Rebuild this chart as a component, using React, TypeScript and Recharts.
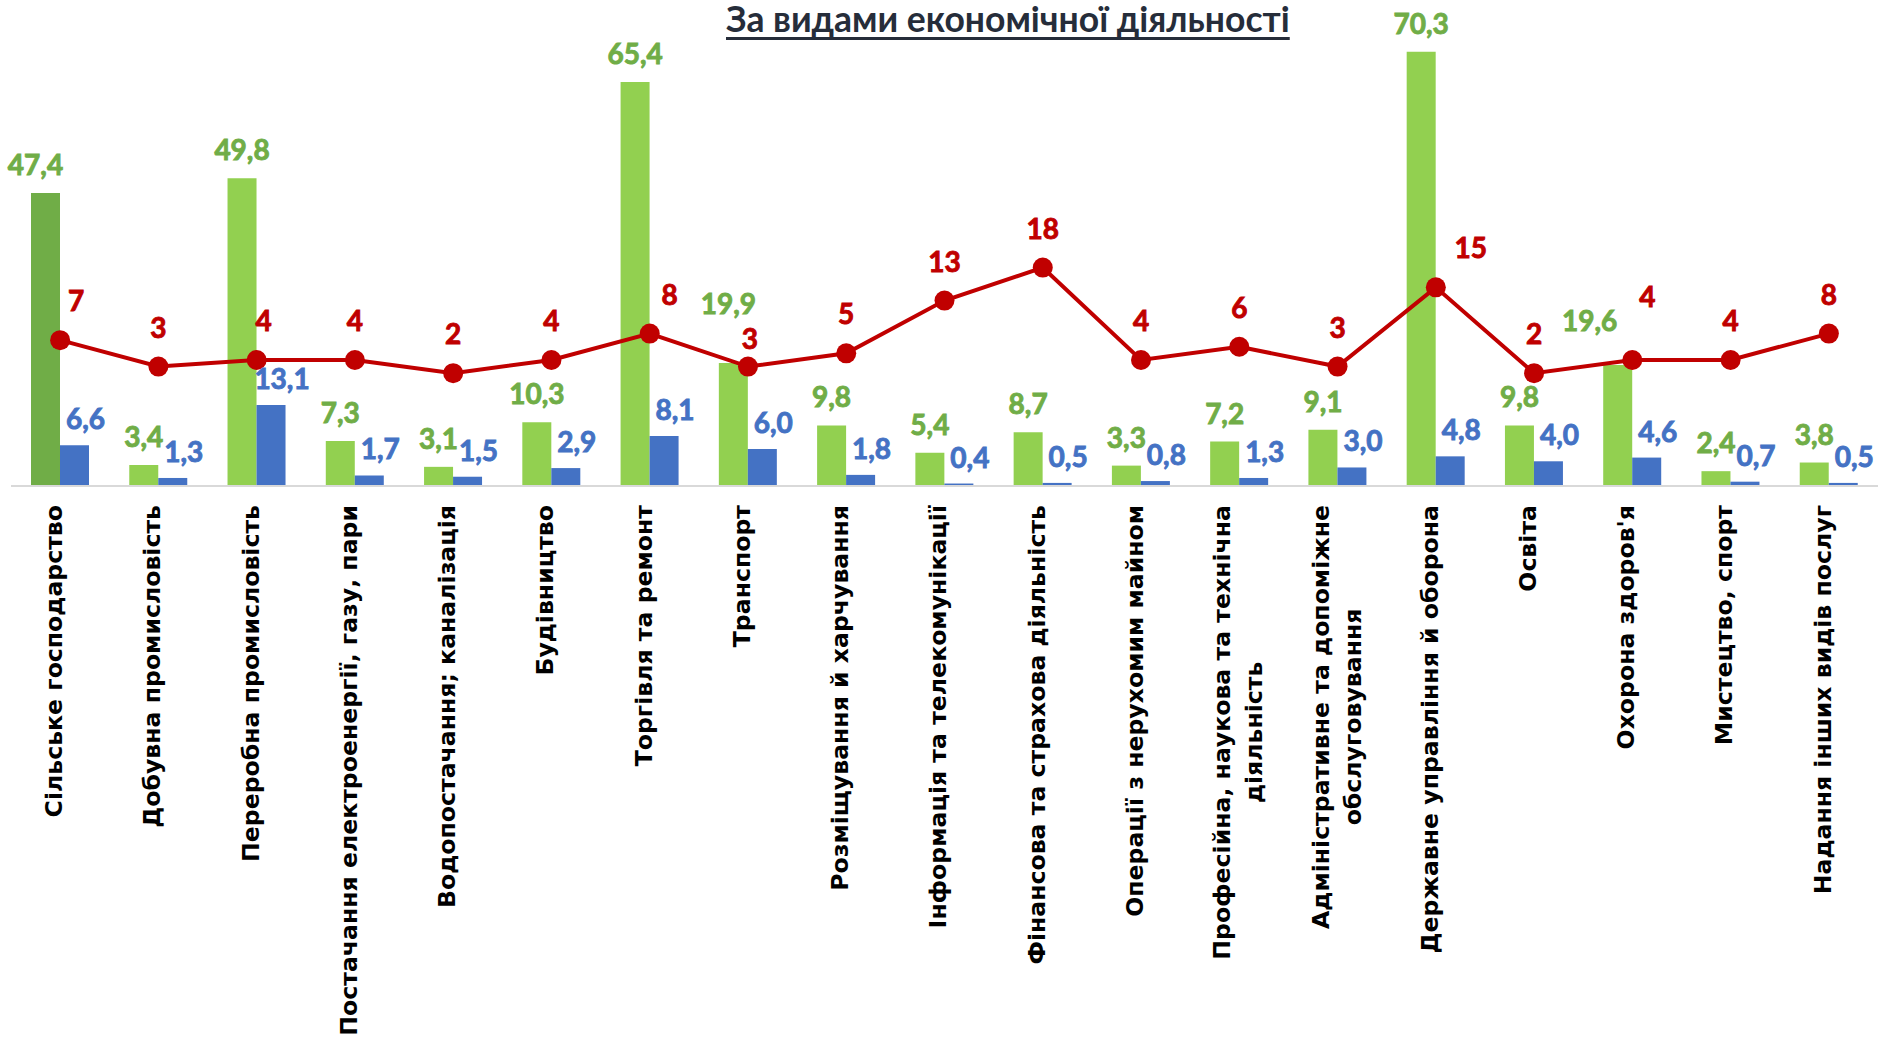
import { Bar, Cell, ComposedChart, LabelList, Line, XAxis, YAxis } from "recharts"

const categories = [
  "Сільське господарство",
  "Добувна промисловість",
  "Переробна промисловість",
  "Постачання електроенергії, газу, пари",
  "Водопостачання; каналізація",
  "Будівництво",
  "Торгівля та ремонт",
  "Транспорт",
  "Розміщування й харчування",
  "Інформація та телекомунікації",
  "Фінансова та страхова діяльність",
  "Операції з нерухомим майном",
  "Професійна, наукова та технічна\nдіяльність",
  "Адміністративне та допоміжне\nобслуговування",
  "Державне управління й оборона",
  "Освіта",
  "Охорона здоров'я",
  "Мистецтво, спорт",
  "Надання інших видів послуг",
]

const greenValues = [47.4, 3.4, 49.8, 7.3, 3.1, 10.3, 65.4, 19.9, 9.8, 5.4, 8.7, 3.3, 7.2, 9.1, 70.3, 9.8, 19.6, 2.4, 3.8]
const blueValues = [6.6, 1.3, 13.1, 1.7, 1.5, 2.9, 8.1, 6.0, 1.8, 0.4, 0.5, 0.8, 1.3, 3.0, 4.8, 4.0, 4.6, 0.7, 0.5]
const redValues = [7, 3, 4, 4, 2, 4, 8, 3, 5, 13, 18, 4, 6, 3, 15, 2, 4, 4, 8]

// hand-moved labels in the original (px nudges [dx, lift], not data)
const greenNudge: Record<number, [number, number]> = { 0: [-10, 0], 7: [-5, 31], 16: [-28, 16] }
const redNudge: Record<number, [number, number]> = {
  0: [16, 0],
  2: [7, 0],
  6: [20, 0],
  7: [2, -11],
  14: [35, 0],
  16: [15, 24],
}

const data = categories.map((name, i) => ({
  name,
  green: greenValues[i],
  blue: blueValues[i],
  red: redValues[i],
}))

const GREEN = "#92D050"
const DARK_GREEN = "#70AD47"
const BLUE = "#4472C4"
const RED = "#C00000"
const LABEL_FONT = "Lato, 'Noto Sans', sans-serif"
const TICK_SIZE = 23.6
const TICK_FONT = `bold ${TICK_SIZE}px 'DejaVu Sans'`

const fmt = (v: number) => v.toFixed(1).replace(".", ",")

let ctx: CanvasRenderingContext2D | null = null
const measure = (s: string) => {
  if (!ctx) ctx = document.createElement("canvas").getContext("2d")
  if (!ctx) return s.length * 15
  ctx.font = TICK_FONT
  return ctx.measureText(s).width
}

const pos = (p: any) => {
  const vb = p.viewBox ?? {}
  return {
    x: p.x ?? vb.x ?? 0,
    y: p.y ?? vb.y ?? 0,
    width: p.width ?? vb.width ?? 0,
  }
}

const labelStyle = (color: string) => ({
  fill: color,
  stroke: color,
  strokeWidth: 0.9,
  fontFamily: LABEL_FONT,
  fontWeight: 700,
  fontSize: 28,
})

const GreenLabel = (p: any) => {
  const { x, y, width } = pos(p)
  const [dx, lift] = greenNudge[p.index] ?? [0, 0]
  return (
    <text x={x + width / 2 + dx} y={y - 18 - lift} textAnchor="middle" {...labelStyle(DARK_GREEN)}>
      {fmt(Number(p.value))}
    </text>
  )
}

const BlueLabel = (p: any) => {
  const { x, y, width } = pos(p)
  return (
    <text x={x + width / 2 + 11} y={y - 16} textAnchor="middle" {...labelStyle(BLUE)}>
      {fmt(Number(p.value))}
    </text>
  )
}

const RedLabel = (p: any) => {
  const { x, y } = pos(p)
  const [dx, lift] = redNudge[p.index] ?? [0, 0]
  return (
    <text x={x + dx} y={y - 29 - lift} textAnchor="middle" {...labelStyle(RED)}>
      {p.value}
    </text>
  )
}

const CategoryTick = ({ x, y, payload }: any) => {
  const lines = String(payload.value).split("\n")
  const common = {
    fontFamily: "'DejaVu Sans', sans-serif",
    fontWeight: 700,
    fontSize: TICK_SIZE,
    fill: "#000",
  }
  if (lines.length === 1) {
    return (
      <text transform={`translate(${x},${y}) rotate(-90)`} textAnchor="end" dy="0.08em" {...common}>
        {lines[0]}
      </text>
    )
  }
  const w = measure(lines[0])
  return (
    <g transform={`translate(${x},${y}) rotate(-90)`}>
      {lines.map((l, i) => (
        <text
          key={i}
          x={-w / 2}
          y={(i - (lines.length - 1) / 2) * 32}
          dy="0.3em"
          textAnchor="middle"
          {...common}
        >
          {l}
        </text>
      ))}
    </g>
  )
}

export default function App() {
  return (
    <div style={{ position: "absolute", left: 0, top: 0, width: 1881, height: 1043, background: "#fff" }}>
      <div
        style={{
          position: "absolute",
          left: 726,
          top: -1,
          fontFamily: LABEL_FONT,
          fontWeight: 700,
          fontSize: 35.5,
          lineHeight: "40px",
          color: "#262D3A",
          textDecoration: "underline",
          textDecorationThickness: "3px",
          textUnderlineOffset: "5px",
          textDecorationSkipInk: "none",
          whiteSpace: "nowrap",
        }}
      >
        За видами економічної діяльності
      </div>
      <ComposedChart
        width={1881}
        height={1043}
        data={data}
        margin={{ top: 30, right: 3, left: 11, bottom: 0 }}
        barGap={0}
      >
        <XAxis
          dataKey="name"
          height={557}
          interval={0}
          axisLine={{ stroke: "#D9D9D9", strokeWidth: 2 }}
          tickLine={false}
          tickSize={0}
          tickMargin={19}
          tick={<CategoryTick />}
        />
        <YAxis yAxisId="left" hide domain={[0, 73.8]} />
        <YAxis yAxisId="right" hide orientation="right" domain={[-15.1, 54]} />
        <Bar yAxisId="left" dataKey="green" barSize={29} fill={GREEN} isAnimationActive={false}>
          {data.map((_, i) => (
            <Cell key={i} fill={i === 0 ? DARK_GREEN : GREEN} />
          ))}
          <LabelList dataKey="green" content={<GreenLabel />} />
        </Bar>
        <Bar yAxisId="left" dataKey="blue" barSize={29} fill={BLUE} isAnimationActive={false}>
          <LabelList dataKey="blue" content={<BlueLabel />} />
        </Bar>
        <Line
          yAxisId="right"
          dataKey="red"
          stroke={RED}
          strokeWidth={4}
          dot={{ r: 10, fill: RED, stroke: RED, strokeWidth: 0 }}
          isAnimationActive={false}
        >
          <LabelList dataKey="red" content={<RedLabel />} />
        </Line>
      </ComposedChart>
    </div>
  )
}
